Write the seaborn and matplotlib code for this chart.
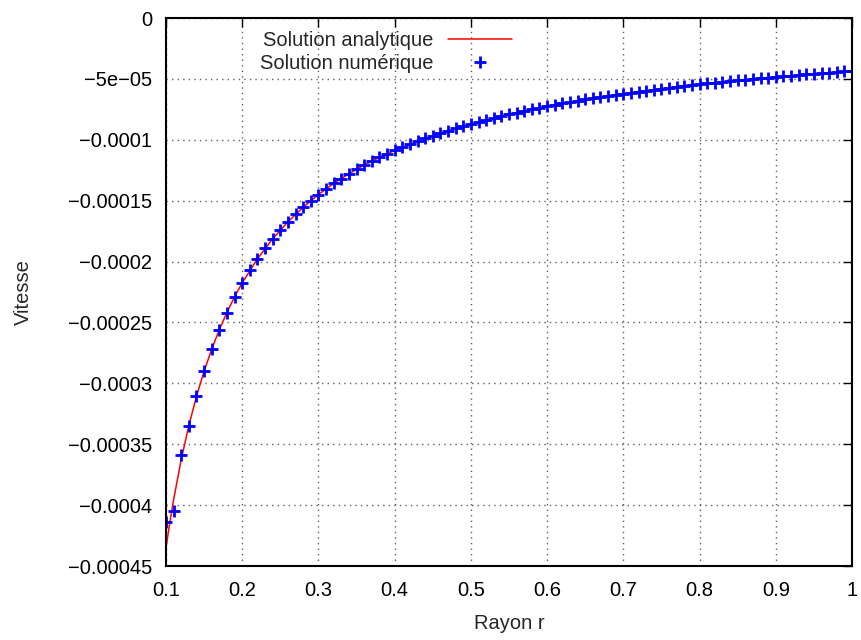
import matplotlib
matplotlib.use('Agg')
import matplotlib.pyplot as plt
import numpy as np
import pandas as pd
import seaborn as sns

# numerical solution (values read in units of 1e-5)
r_num = [0.10, 0.11, 0.12, 0.13, 0.14, 0.15, 0.16, 0.17, 0.18, 0.19,
         0.20, 0.21, 0.22, 0.23, 0.24, 0.25, 0.26, 0.27, 0.28, 0.29,
         0.30, 0.31, 0.32, 0.33, 0.34, 0.35, 0.36, 0.37, 0.38, 0.39,
         0.40, 0.41, 0.42, 0.43, 0.44, 0.45, 0.46, 0.47, 0.48, 0.49,
         0.50, 0.51, 0.52, 0.53, 0.54, 0.55, 0.56, 0.57, 0.58, 0.59,
         0.60, 0.61, 0.62, 0.63, 0.64, 0.65, 0.66, 0.67, 0.68, 0.69,
         0.70, 0.71, 0.72, 0.73, 0.74, 0.75, 0.76, 0.77, 0.78, 0.79,
         0.80, 0.81, 0.82, 0.83, 0.84, 0.85, 0.86, 0.87, 0.88, 0.89,
         0.90, 0.91, 0.92, 0.93, 0.94, 0.95, 0.96, 0.97, 0.98, 0.99, 1.00]
v_num = [-41.4, -40.5, -35.9, -33.5, -31.0, -29.0, -27.2, -25.6, -24.2, -22.9,
         -21.75, -20.71, -19.77, -18.91, -18.13, -17.40, -16.73, -16.11, -15.54, -15.00,
         -14.50, -14.03, -13.59, -13.18, -12.79, -12.43, -12.08, -11.76, -11.45, -11.15,
         -10.88, -10.61, -10.36, -10.12, -9.89, -9.67, -9.46, -9.26, -9.06, -8.88,
         -8.70, -8.53, -8.37, -8.21, -8.06, -7.91, -7.77, -7.63, -7.50, -7.37,
         -7.25, -7.13, -7.02, -6.90, -6.80, -6.69, -6.59, -6.49, -6.40, -6.30,
         -6.21, -6.13, -6.04, -5.96, -5.88, -5.80, -5.72, -5.65, -5.58, -5.51,
         -5.44, -5.37, -5.30, -5.24, -5.18, -5.12, -5.06, -5.00, -4.94, -4.89,
         -4.83, -4.78, -4.73, -4.68, -4.63, -4.58, -4.53, -4.48, -4.44, -4.39, -4.35]

# analytic solution (units of 1e-5)
r_ana = [0.10, 0.105, 0.11, 0.12, 0.13, 0.14, 0.15, 0.16, 0.17, 0.18, 0.19, 0.20,
         0.22, 0.24, 0.26, 0.28, 0.30, 0.32, 0.34, 0.36, 0.38, 0.40,
         0.45, 0.50, 0.55, 0.60, 0.65, 0.70, 0.75, 0.80, 0.85, 0.90, 0.95, 1.00]
v_ana = [-43.50, -41.43, -39.55, -36.25, -33.46, -31.07, -29.00, -27.19, -25.59, -24.17, -22.89, -21.75,
         -19.77, -18.13, -16.73, -15.54, -14.50, -13.59, -12.79, -12.08, -11.45, -10.88,
         -9.67, -8.70, -7.91, -7.25, -6.69, -6.21, -5.80, -5.44, -5.12, -4.83, -4.58, -4.35]

x_ticks = [0.1, 0.2, 0.3, 0.4, 0.5, 0.6, 0.7, 0.8, 0.9, 1.0]
x_tick_labels = ['0.1', '0.2', '0.3', '0.4', '0.5', '0.6', '0.7', '0.8', '0.9', '1']
y_ticks = [0, -5e-5, -1e-4, -1.5e-4, -2e-4, -2.5e-4, -3e-4, -3.5e-4, -4e-4, -4.5e-4]
y_tick_labels = ['0', '\u22125e\u221205', '\u22120.0001', '\u22120.00015', '\u22120.0002',
                 '\u22120.00025', '\u22120.0003', '\u22120.00035', '\u22120.0004', '\u22120.00045']

df_num = pd.DataFrame({'r': r_num, 'v': np.array(v_num) * 1e-5})
df_ana = pd.DataFrame({'r': r_ana, 'v': np.array(v_ana) * 1e-5})

sns.set_theme(style="white")
plt.rcParams['font.family'] = ['Liberation Sans', 'DejaVu Sans']
plt.rcParams['axes.unicode_minus'] = True
fs = 14.5

W, H = 862, 640
fig = plt.figure(figsize=(W / 100, H / 100), dpi=100)
ax = fig.add_axes([166 / W, 1 - 566 / H, (852 - 166) / W, (566 - 18) / H])

sns.lineplot(data=df_ana, x='r', y='v', ax=ax, color='#ff0000', linewidth=1.1,
             label='Solution analytique', estimator=None, sort=False)
sns.lineplot(data=df_num, x='r', y='v', ax=ax, color='#0000ff', linestyle='none',
             marker='+', markersize=9, markeredgewidth=2, markeredgecolor='#0000ff',
             label='Solution numérique', estimator=None, sort=False)

ax.set_xlim(0.1, 1.0)
ax.set_ylim(-0.00045, 0)
ax.set_xticks(x_ticks)
ax.set_xticklabels(x_tick_labels)
ax.set_yticks(y_ticks)
ax.set_yticklabels(y_tick_labels)
ax.tick_params(direction='in', length=6.5, width=1, top=True, right=True,
               labelsize=fs, colors='black')
ax.tick_params(axis='x', pad=11)
ax.tick_params(axis='y', pad=10)
ax.grid(True, color='#606060', linestyle=(0, (1, 3)), linewidth=1)
for s in ax.spines.values():
    s.set_color('black')
    s.set_linewidth(1.5)

ax.set_xlabel('Rayon r', fontsize=fs, labelpad=10)
ax.set_ylabel('Vitesse', fontsize=fs, labelpad=25)

ax.legend(loc='upper right', bbox_to_anchor=(512 / W, 1 - 31 / H), bbox_transform=fig.transFigure,
          frameon=False, markerfirst=False, handlelength=3.2, handletextpad=0.7,
          labelspacing=0.18, borderpad=0, borderaxespad=0, fontsize=fs, numpoints=1)

fig.savefig('out.png', dpi=100)
